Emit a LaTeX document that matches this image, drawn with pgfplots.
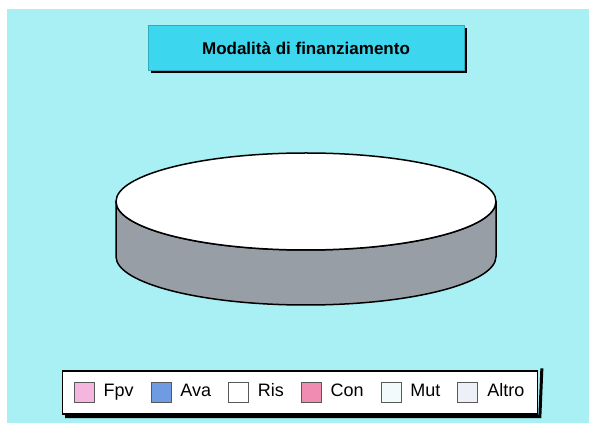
\documentclass[border=0pt]{standalone}
\usepackage{pgfplots}
\pgfplotsset{compat=1.18}
\usepackage{fontspec}
\setmainfont{Liberation Sans}

\definecolor{bgcyan}{HTML}{A8F0F4}
\definecolor{titlecyan}{HTML}{3CD6EE}
\definecolor{pieside}{HTML}{979EA5}
\definecolor{cFpv}{HTML}{F4B6DE}
\definecolor{cAva}{HTML}{6F9BE2}
\definecolor{cRis}{HTML}{FFFFFF}
\definecolor{cCon}{HTML}{F08CB2}
\definecolor{cMut}{HTML}{F2FAFC}
\definecolor{cAltro}{HTML}{EDF1F7}

% shares (percent): only Ris has a value, so the pie is one full slice
% Fpv 0, Ava 0, Ris 100, Con 0, Mut 0, Altro 0

\begin{document}
\begin{tikzpicture}
\begin{axis}[
    x=1pt, y=1pt,
    xmin=0, xmax=589, ymin=0, ymax=423,
    hide axis,
    clip=false,
    legend columns=6,
    legend image code/.code={\draw[#1,draw=black!65,line width=0.8pt] (0pt,-10pt) rectangle (20pt,10pt);},
    legend style={
        name=leg,
        at={(axis cs:300,30.5)}, anchor=center,
        draw=black, line width=1.2pt, fill=white,
        font=\fontsize{18}{21}\selectfont,
        nodes={text height=13pt, text depth=4pt},
        inner xsep=11pt, inner ysep=11pt,
        /tikz/every even column/.append style={column sep=15pt},
        /tikz/every odd column/.append style={column sep=7pt},
    },
]
% background
\fill[white] (axis cs:0,0) rectangle (axis cs:589,423);
\fill[bgcyan] (axis cs:7,0) rectangle (axis cs:589,414);
% title box
\fill[black] (axis cs:151,350) rectangle (axis cs:467,395);
\filldraw[fill=titlecyan, draw=titlecyan!80!black, line width=0.5pt] (axis cs:148,353) rectangle (axis cs:464,398);
\node[font=\fontsize{17}{20}\selectfont\bfseries] at (axis cs:306,375) {Modalità di finanziamento};
% pie side and top
\filldraw[fill=pieside, draw=black, line width=1.5pt]
    (axis cs:116,221.5) -- (axis cs:116,166.5)
    arc[start angle=180, end angle=360, x radius=190pt, y radius=48.5pt]
    -- (axis cs:496,221.5)
    arc[start angle=0, end angle=-180, x radius=190pt, y radius=48.5pt] -- cycle;
\filldraw[fill=cRis, draw=black, line width=1.5pt] (axis cs:306,221.5) ellipse [x radius=190pt, y radius=48.5pt];

\addlegendimage{fill=cFpv}\addlegendentry{Fpv}
\addlegendimage{fill=cAva}\addlegendentry{Ava}
\addlegendimage{fill=cRis}\addlegendentry{Ris}
\addlegendimage{fill=cCon}\addlegendentry{Con}
\addlegendimage{fill=cMut}\addlegendentry{Mut}
\addlegendimage{fill=cAltro}\addlegendentry{Altro}
\end{axis}
% legend shadow on right and bottom
\draw[black, line width=3pt]
    ([xshift=4pt,yshift=2pt]leg.north east) -- ([xshift=2pt,yshift=-2pt]leg.south east)
    -- ([xshift=3pt,yshift=-2pt]leg.south west);
\end{tikzpicture}
\end{document}
